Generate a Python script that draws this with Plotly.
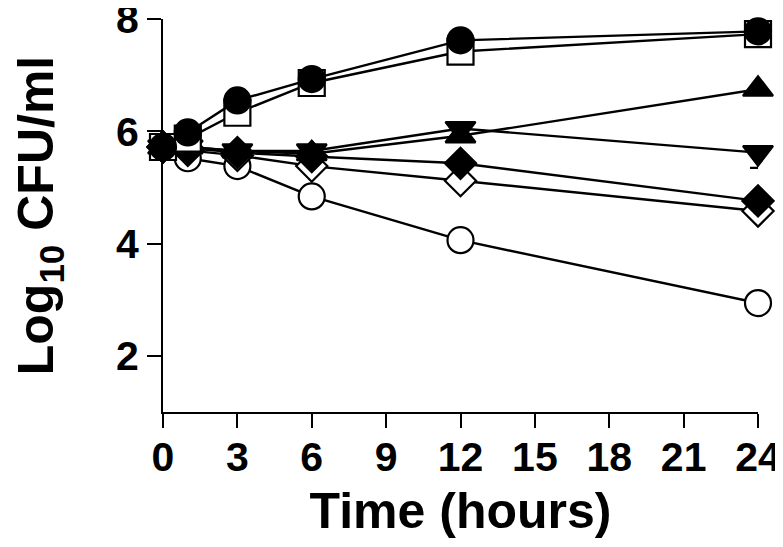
import plotly.graph_objects as go

time_h = [0, 1, 3, 6, 12, 24]

open_circle = [5.72, 5.52, 5.38, 4.84, 4.06, 2.94]
open_diamond = [5.72, 5.66, 5.57, 5.38, 5.12, 4.58]
filled_diamond = [5.72, 5.70, 5.62, 5.55, 5.43, 4.76]
tri_down = [5.72, 5.72, 5.65, 5.65, 6.05, 5.62]
tri_down_err_minus = [0, 0, 0, 0, 0, 0.27]
tri_up = [5.72, 5.72, 5.65, 5.60, 5.92, 6.75]
open_square = [5.72, 5.87, 6.33, 6.86, 7.42, 7.73]
filled_circle = [5.72, 5.98, 6.55, 6.93, 7.62, 7.78]

x_ticks = [0, 3, 6, 9, 12, 15, 18, 21, 24]
y_ticks = [2, 4, 6, 8]

series = [
    ("open circle", open_circle, "circle-open", 26, None),
    ("open diamond", open_diamond, "diamond-open", 24, None),
    ("filled diamond", filled_diamond, "diamond", 24, None),
    ("triangle down", tri_down, "triangle-down", 26, tri_down_err_minus),
    ("triangle up", tri_up, "triangle-up", 26, None),
    ("open square", open_square, "square-open", 26, None),
    ("filled circle", filled_circle, "circle", 26, None),
]

fig = go.Figure()
for name, ys, sym, size, err in series:
    is_open = sym.endswith("-open")
    base = sym.replace("-open", "")
    marker = dict(
        symbol=base,
        size=size,
        color="white" if is_open else "black",
        line=dict(color="black", width=2.2),
    )
    kw = {}
    if err is not None:
        kw["error_y"] = dict(type="data", symmetric=False, array=[0] * len(err),
                             arrayminus=err, color="black", thickness=2.2, width=8)
    fig.add_trace(go.Scatter(
        x=time_h, y=ys, mode="lines+markers", name=name,
        line=dict(color="black", width=2.4),
        marker=marker, cliponaxis=False, showlegend=False, **kw,
    ))

axis_font = dict(family="Liberation Sans, Arial, sans-serif", size=41, color="black")
title_font = dict(family="Liberation Sans, Arial, sans-serif", size=50, color="black")

# the page body adds an 8px offset, so the figure is sized to fill the rest of the window
fig.update_layout(
    width=775, height=539,
    margin=dict(l=155, r=25, t=11, b=135, autoexpand=False),
    paper_bgcolor="white", plot_bgcolor="white",
    xaxis=dict(
        range=[0, 24], tickvals=x_ticks, ticktext=[f"<b>{v}</b>" for v in x_ticks],
        showline=True, linecolor="black", linewidth=2,
        ticks="outside", ticklen=14, tickwidth=2, tickcolor="black",
        showgrid=False, zeroline=False, tickfont=axis_font,
        automargin=False, ticklabeloverflow="allow", ticklabelstandoff=-6,
        title=dict(text="<b>Time (hours)</b>", font=title_font, standoff=14),
    ),
    yaxis=dict(
        range=[1, 8], tickvals=y_ticks, ticktext=[f"<b>{v}</b>" for v in y_ticks],
        showline=True, linecolor="black", linewidth=2,
        ticks="outside", ticklen=14, tickwidth=2, tickcolor="black",
        showgrid=False, zeroline=False, tickfont=axis_font,
        automargin=False, ticklabeloverflow="allow",
        title=dict(text="<b>Log<sub>10</sub> CFU/ml</b>", font=title_font, standoff=78),
    ),
)

fig.write_html("out.html")
